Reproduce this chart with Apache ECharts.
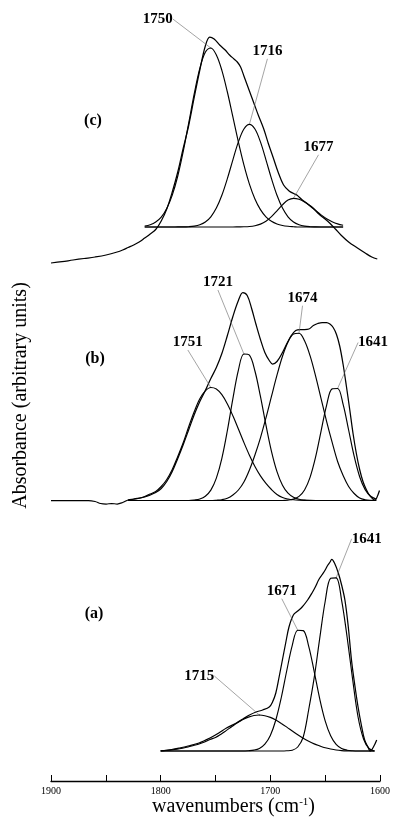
<!DOCTYPE html>
<html>
<head>
<meta charset="utf-8">
<script src="https://cdn.jsdelivr.net/npm/echarts@6/dist/echarts.min.js"></script>
<style>html,body{margin:0;padding:0;background:#fff}#chart{width:393px;height:819px}</style>
</head>
<body>
<div id="chart"></div>
<script>
// ---------- Panel (c) ----------
const cWave = [1815,1810,1805,1800,1795,1790,1785,1780,1775,1770,1765,1760,1755,1750,1745,1740,1735,1730,1725,1720,1715,1710,1705,1700,1695,1690,1685,1680,1675,1670,1665,1660,1655,1650,1645,1640,1635];
const c1750 = [1.0,2.3,5.0,9.9,18.5,31.9,51.0,75.8,104.4,133.6,158.6,174.8,179.0,172.0,156.7,135.0,110.1,85.0,62.1,42.9,28.1,17.4,10.2,5.7,3.0,1.5,0.7,0.3,0,0,0,0,0,0,0,0,0];
const c1716 = [0,0,0,0,0,0,0.1,0.1,0.3,0.9,2.3,5.0,10.2,18.9,31.7,48.4,67.2,85.1,98.0,102.7,98.0,85.1,67.2,48.4,31.7,18.9,10.2,5.0,2.3,0.9,0.3,0.1,0,0,0,0,0];
const c1677 = [0,0,0,0,0,0,0,0,0,0,0,0,0,0,0,0,0,0.1,0.2,0.5,1.3,2.9,5.8,10.3,16.2,22.2,26.9,28.7,27.7,25.0,21.0,16.5,12.1,8.3,5.3,3.1,1.7];
const cEnvWave = [1900,1890,1880,1870,1860,1850,1840,1835,1830,1825,1820,1815,1810,1805,1800,1795,1790,1785,1780,1775,1770,1765,1760,1756,1752,1747,1742,1738,1734,1731,1728,1725,1720,1716,1712,1707,1703,1698,1694,1689,1684,1680,1677,1672,1667,1662,1657,1652,1647,1642,1637,1630,1622,1615,1609,1604];
const cEnv = [-36,-34.7,-33,-31.5,-30,-28,-25,-23,-20.5,-18,-15,-11,-7,-2.5,6,18,35,55,79,102,130,157,181,190,188,182,177,172,168,165,160,151,136,124,112,98,84,68,55,42,36,33.5,32,27,23,18.7,13,8.5,3.7,-2,-8,-15,-21,-26,-30,-32];
const cPeakText = ['1750','1716','1677'];

// ---------- Panel (b) ----------
const bWave = [1830,1825,1820,1815,1810,1805,1800,1795,1790,1785,1780,1775,1770,1765,1760,1755,1750,1745,1740,1735,1730,1725,1720,1715,1710,1705,1700,1695,1690,1685,1680,1675,1670,1665,1660,1655,1650,1645,1640,1635,1630,1625,1620,1615,1610,1605];
const b1751 = [0.6,1.2,2.2,4.0,6.5,9.0,14.0,21.0,31.0,44.0,58.0,74.0,89.0,101.7,109.6,113.0,111.5,105.8,96.5,84.7,71.5,58.0,45.3,34.0,24.6,17.1,11.0,6.0,3.0,1.5,0.7,0.3,0.1,0,0,0,0,0,0,0,0,0,0,0,0,0];
const b1721 = [0,0,0,0,0,0,0,0,0,0,0,0,0.5,1.5,4.3,10.4,22.4,42.2,70.0,101.9,130.4,146.5,145.3,129.5,104.1,75.4,49.2,28.9,15.3,7.3,3.2,1.2,0.4,0.1,0,0,0,0,0,0,0,0,0,0,0,0];
const b1674 = [0,0,0,0,0,0,0,0,0,0,0,0,0,0,0,0,0.3,0.8,2.2,5.5,10.5,18.5,30.5,45.5,62.7,82.6,104.1,125.3,144.2,158.5,166.6,167.3,159.7,144.8,124.6,101.9,79.1,58.3,39.0,25.0,14.0,7.0,2.5,0.8,0.2,0];
const b1641 = [0,0,0,0,0,0,0,0,0,0,0,0,0,0,0,0,0,0,0,0,0,0,0,0,0,0,0,0,0,0.4,1.4,4.1,10.5,23.1,43.3,69.4,95.2,111.6,112.0,96.1,70.5,44.3,23.8,10.9,4.3,1.4];
const bEnvWave = [1900,1880,1866,1860,1855,1850,1845,1840,1835,1830,1825,1815,1805,1800,1795,1790,1785,1780,1775,1770,1765,1760,1755,1750,1745,1740,1735,1730,1726,1722,1718,1714,1710,1706,1702,1699,1695,1690,1686,1682,1678,1674,1670,1666,1662,1658,1654,1650,1647,1644,1641,1638,1635,1632,1629,1626,1623,1620,1617,1614,1611,1608,1606,1604,1602];
const bEnv = [0,0,0,-1,-3,-3.5,-3,-3.5,-2,0.5,1.5,3.5,8,12,19,29,42,56,71,86,99,110,122,133,147,165,184,200,208,205,192,176,161,148,140,136.5,139,148,157,165,170,171,171,171.5,175,177,178,178,176.5,173,166,154,136,114,91,67,47,31,19,11,5,1.5,0.5,4,10];
const bPeakText = ['1751','1721','1674','1641'];

// ---------- Panel (a) ----------
const aWave = [1800,1795,1790,1785,1780,1775,1770,1765,1760,1755,1750,1745,1740,1735,1730,1725,1720,1715,1710,1705,1700,1695,1690,1685,1680,1675,1670,1665,1660,1655,1650,1645,1640,1635,1630,1625,1620,1615,1610,1605];
const a1715 = [0.2,0.6,1.1,1.8,2.8,4.0,5.5,7.0,9.0,11.5,13.5,16.8,20.6,24.5,28.2,31.4,33.9,35.5,36.0,35.3,33.6,30.9,27.6,23.9,20.0,16.2,12.7,9.7,7.1,5.1,3.3,2.0,1.0,0.4,0.1,0,0,0,0,0];
const a1671 = [0,0,0,0,0,0,0,0,0,0,0,0,0,0,0,0,0.3,0.9,2.6,6.9,15.6,31.0,53.5,80.5,105.6,120.8,120.4,104.7,79.4,52.4,30.2,15.2,6.6,2.5,0.8,0.2,0,0,0,0];
const a1641 = [0,0,0,0,0,0,0,0,0,0,0,0,0,0,0,0,0,0,0,0,0,0,0,0.2,0.8,4.0,14.0,41.5,73.3,112.4,149.5,172.7,173.2,150.7,114.0,72.0,34.0,12.0,2.5,0];
const aEnvWave = [1800,1790,1783,1775,1765,1755,1747,1740,1731,1725,1719,1713,1707,1701,1698,1695,1692,1689,1686,1683,1679,1675,1671,1666,1662,1659,1656,1653,1650,1647.5,1645.5,1644,1641.5,1638,1635,1632,1629,1626,1623,1620,1617,1614,1611,1609,1606,1603];
const aEnv = [0,1.5,3,5,8,13,18,23,28,32,36,39,41,44,49,58,74,91,108,124,136,140,144,151,158,164,171,176,181,186,189,191.7,188,178,166,151,125,91,66,44,26,11,4,0,4,11];
const aPeakText = ['1715','1671','1641'];

// axis text
const xTicks = [1900, 1800, 1700, 1600];
const xTitle = 'wavenumbers (cm{s|-1})';
const yTitle = 'Absorbance (arbitrary units)';
const panelTags = ['(c)', '(b)', '(a)'];

// ---------- presentation ----------
const SERIF = '"Liberation Serif", "DejaVu Serif", serif';
const LEFT = 51, WIDTH = 330.7;
const grids = [
  {left: LEFT, width: WIDTH, top: 27, height: 240},
  {left: LEFT, width: WIDTH, top: 280.5, height: 230},
  {left: LEFT, width: WIDTH, top: 551, height: 200}
];
const yRanges = [[-40, 200], [-10, 220], [0, 200]];
const labelOffsets = {
  '1750': [-53, -29], '1716': [18, -73], '1677': [25, -51],
  '1751': [-23, -45], '1721': [-26, -71.5], '1674': [3.5, -35], 'b1641': [35.5, -46],
  '1715': [-60, -39], '1671': [-16, -39], 'a1641': [30.5, -39]
};
const tagPos = [[93, 121], [95, 359], [94, 614]];

function pairs(xs, ys) { return xs.map((x, i) => [x, ys[i]]); }

function envSeries(g, xs, ys) {
  return {
    type: 'line', xAxisIndex: g, yAxisIndex: g, data: pairs(xs, ys),
    smooth: 0.35, symbol: 'none', showSymbol: false, clip: false,
    lineStyle: {color: '#000', width: 1.25}, emphasis: {disabled: true}, silent: true
  };
}

function compSeries(g, xs, ys, text, offKey) {
  const off = labelOffsets[offKey || text];
  let k = 0;
  ys.forEach((v, i) => { if (v > ys[k]) k = i; });
  const data = pairs(xs, ys).map((p, i) => i === k
    ? {value: p, symbol: 'circle', symbolSize: 1, label: {show: true, formatter: text}}
    : p);
  return {
    type: 'line', xAxisIndex: g, yAxisIndex: g, data,
    smooth: 0.35, symbol: 'none', showSymbol: true, clip: false,
    lineStyle: {color: '#000', width: 1.15}, itemStyle: {color: '#000'},
    label: {show: false, position: 'inside', color: '#000', fontFamily: SERIF, fontWeight: 'bold', fontSize: 15},
    labelLine: {show: true, lineStyle: {color: '#666', width: 0.6}},
    labelLayout: function (p) {
      return {
        x: p.rect.x + p.rect.width / 2 + off[0],
        y: p.rect.y + p.rect.height / 2 + off[1],
        align: 'center', verticalAlign: 'middle'
      };
    },
    emphasis: {disabled: true}, silent: true
  };
}

const xAxes = grids.map((g, i) => {
  const base = {type: 'value', gridIndex: i, min: 1600, max: 1900, inverse: true, interval: 50};
  if (i < 2) return Object.assign(base, {show: false});
  return Object.assign(base, {
    offset: 30,
    axisLine: {show: true, onZero: false, lineStyle: {color: '#000', width: 1.3}},
    axisTick: {show: true, inside: true, length: 6, lineStyle: {color: '#000', width: 1}},
    axisLabel: {
      show: true, margin: 5, color: '#000', fontFamily: SERIF, fontSize: 10,
      showMinLabel: true, showMaxLabel: true,
      formatter: v => (xTicks.indexOf(v) >= 0 ? String(v) : '')
    },
    splitLine: {show: false},
    name: xTitle, nameLocation: 'middle', nameGap: 15,
    nameTextStyle: {
      color: '#000', fontFamily: SERIF, fontSize: 20, padding: [0, 0, 0, 36],
      rich: {s: {fontSize: 11, fontFamily: SERIF, color: '#000', verticalAlign: 'top', lineHeight: 20}}
    }
  });
});

const yAxes = grids.map((g, i) => {
  const base = {type: 'value', gridIndex: i, min: yRanges[i][0], max: yRanges[i][1],
    axisLine: {show: false}, axisTick: {show: false}, axisLabel: {show: false}, splitLine: {show: false}};
  if (i === 1) {
    Object.assign(base, {
      name: yTitle, nameLocation: 'middle', nameGap: 20,
      nameTextStyle: {color: '#000', fontFamily: SERIF, fontSize: 20}
    });
  }
  return base;
});

const series = [
  envSeries(0, cEnvWave, cEnv),
  compSeries(0, cWave, c1750, cPeakText[0]),
  compSeries(0, cWave, c1716, cPeakText[1]),
  compSeries(0, cWave, c1677, cPeakText[2]),
  envSeries(1, bEnvWave, bEnv),
  compSeries(1, bWave, b1751, bPeakText[0]),
  compSeries(1, bWave, b1721, bPeakText[1]),
  compSeries(1, bWave, b1674, bPeakText[2]),
  compSeries(1, bWave, b1641, bPeakText[3], 'b1641'),
  envSeries(2, aEnvWave, aEnv),
  compSeries(2, aWave, a1715, aPeakText[0]),
  compSeries(2, aWave, a1671, aPeakText[1]),
  compSeries(2, aWave, a1641, aPeakText[2], 'a1641')
];

const graphic = panelTags.map((t, i) => ({
  type: 'text', x: tagPos[i][0], y: tagPos[i][1], silent: true,
  style: {text: t, fill: '#000', font: 'bold 16px ' + SERIF, align: 'center', verticalAlign: 'middle'}
}));

const chart = echarts.init(document.getElementById('chart'), null, {renderer: 'canvas'});
chart.setOption({
  animation: false,
  backgroundColor: '#fff',
  textStyle: {fontFamily: SERIF},
  grid: grids,
  xAxis: xAxes,
  yAxis: yAxes,
  series: series,
  graphic: graphic
});
</script>
</body>
</html>
